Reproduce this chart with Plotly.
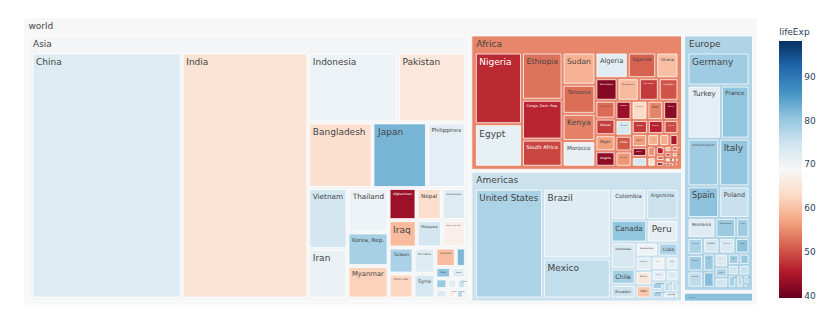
import numpy as np
import pandas as pd
import plotly.express as px

# Gapminder 2007: country, continent, population, life expectancy
countries = [
    "Algeria", "Angola", "Benin", "Botswana", "Burkina Faso", "Burundi", "Cameroon",
    "Central African Republic", "Chad", "Comoros", "Congo, Dem. Rep.", "Congo, Rep.",
    "Cote d'Ivoire", "Djibouti", "Egypt", "Equatorial Guinea", "Eritrea", "Ethiopia",
    "Gabon", "Gambia", "Ghana", "Guinea", "Guinea-Bissau", "Kenya", "Lesotho", "Liberia",
    "Libya", "Madagascar", "Malawi", "Mali", "Mauritania", "Mauritius", "Morocco",
    "Mozambique", "Namibia", "Niger", "Nigeria", "Reunion", "Rwanda",
    "Sao Tome and Principe", "Senegal", "Sierra Leone", "Somalia", "South Africa",
    "Sudan", "Swaziland", "Tanzania", "Togo", "Tunisia", "Uganda", "Zambia", "Zimbabwe",
    "Argentina", "Bolivia", "Brazil", "Canada", "Chile", "Colombia", "Costa Rica", "Cuba",
    "Dominican Republic", "Ecuador", "El Salvador", "Guatemala", "Haiti", "Honduras",
    "Jamaica", "Mexico", "Nicaragua", "Panama", "Paraguay", "Peru", "Puerto Rico",
    "Trinidad and Tobago", "United States", "Uruguay", "Venezuela",
    "Afghanistan", "Bahrain", "Bangladesh", "Cambodia", "China", "Hong Kong, China",
    "India", "Indonesia", "Iran", "Iraq", "Israel", "Japan", "Jordan", "Korea, Dem. Rep.",
    "Korea, Rep.", "Kuwait", "Lebanon", "Malaysia", "Mongolia", "Myanmar", "Nepal", "Oman",
    "Pakistan", "Philippines", "Saudi Arabia", "Singapore", "Sri Lanka", "Syria", "Taiwan",
    "Thailand", "Vietnam", "West Bank and Gaza", "Yemen, Rep.",
    "Albania", "Austria", "Belgium", "Bosnia and Herzegovina", "Bulgaria", "Croatia",
    "Czech Republic", "Denmark", "Finland", "France", "Germany", "Greece", "Hungary",
    "Iceland", "Ireland", "Italy", "Montenegro", "Netherlands", "Norway", "Poland",
    "Portugal", "Romania", "Serbia", "Slovak Republic", "Slovenia", "Spain", "Sweden",
    "Switzerland", "Turkey", "United Kingdom",
    "Australia", "New Zealand",
]

continents = (["Africa"] * 52 + ["Americas"] * 25 + ["Asia"] * 33
              + ["Europe"] * 30 + ["Oceania"] * 2)

population = [
    33333216, 12420476, 8078314, 1639131, 14326203, 8390505, 17696293,
    4369038, 10238807, 710960, 64606759, 3800610,
    18013409, 496374, 80264543, 551201, 4906585, 76511887,
    1454867, 1688359, 22873338, 9947814, 1472041, 35610177, 2012649, 3193942,
    6036914, 19167654, 13327079, 12031795, 3270065, 1250882, 33757175,
    19951656, 2055080, 12894865, 135031164, 798094, 8860588,
    199579, 12267493, 6144562, 9118773, 43997828,
    42292929, 1133066, 38139640, 5701579, 10276158, 29170398, 11746035, 12311143,
    40301927, 9119152, 190010647, 33390141, 16284741, 44227550, 4133884, 11416987,
    9319622, 13755680, 6939688, 12572928, 8502814, 7483763,
    2780132, 108700891, 5675356, 3242173, 6667147, 28674757, 3942491,
    1056608, 301139947, 3447496, 26084662,
    31889923, 708573, 150448339, 14131858, 1318683096, 6980412,
    1110396331, 223547000, 69453570, 27499638, 6426679, 127467972, 6053193, 23301725,
    49044790, 2505559, 3921278, 24821286, 2874127, 47761980, 28901790, 3204897,
    169270617, 91077287, 27601038, 4553009, 20378239, 19314747, 23174294,
    65068149, 85262356, 4018332, 22211743,
    3600523, 8199783, 10392226, 4552198, 7322858, 4493312,
    10228744, 5468120, 5238460, 61083916, 82400996, 10706290, 9956108,
    301931, 4109086, 58147733, 684736, 16570613, 4627926, 38518241,
    10642836, 22276056, 10150265, 5447502, 2009245, 40448191, 9031088,
    7554661, 71158647, 60776238,
    20434176, 4115771,
]

life_exp = [
    72.301, 42.731, 56.728, 50.728, 52.295, 49.580, 50.430,
    44.741, 50.651, 65.152, 46.462, 55.322,
    48.328, 54.791, 71.338, 51.579, 58.040, 52.947,
    56.735, 59.448, 60.022, 56.007, 46.388, 54.110, 42.592, 45.678,
    73.952, 59.443, 48.303, 54.467, 64.164, 72.801, 71.164,
    42.082, 52.906, 56.867, 46.859, 76.442, 46.242,
    65.528, 63.062, 42.568, 48.159, 49.339,
    58.556, 39.613, 52.517, 58.420, 73.923, 51.542, 42.384, 43.487,
    75.320, 65.554, 72.390, 80.653, 78.553, 72.889, 78.782, 78.273,
    72.235, 74.994, 71.878, 70.259, 60.916, 70.198,
    72.567, 76.195, 72.899, 75.537, 71.752, 71.421, 78.746,
    69.819, 78.242, 76.384, 73.747,
    43.828, 75.635, 64.062, 59.723, 72.961, 82.208,
    64.698, 70.650, 70.964, 59.545, 80.745, 82.603, 72.535, 67.297,
    78.623, 77.588, 71.993, 74.241, 66.803, 62.069, 63.785, 75.640,
    65.483, 71.688, 72.777, 79.972, 72.396, 74.143, 78.400,
    70.616, 74.249, 73.422, 62.698,
    76.423, 79.829, 79.441, 74.852, 73.005, 75.748,
    76.486, 78.332, 79.313, 80.657, 79.406, 79.483, 73.338,
    81.757, 78.885, 80.546, 74.543, 79.762, 80.196, 75.563,
    78.098, 72.476, 74.002, 74.663, 77.926, 80.941, 80.884,
    81.701, 71.777, 79.425,
    81.235, 80.204,
]

df = pd.DataFrame({
    "country": countries,
    "continent": continents,
    "pop": population,
    "lifeExp": life_exp,
})

fig = px.treemap(
    df,
    path=[px.Constant("world"), "continent", "country"],
    values="pop",
    color="lifeExp",
    color_continuous_scale="RdBu",
    color_continuous_midpoint=np.average(df["lifeExp"], weights=df["pop"]),
)

# compact styling: small text, thin tile borders
fig.update_traces(
    marker=dict(pad=dict(l=4.5, r=4.5, b=4), line=dict(width=0.75)),
)

fig.update_layout(
    width=839,
    height=327,
    margin=dict(t=18, l=24, r=82, b=22),
    font=dict(family="Verdana, DejaVu Sans, sans-serif", size=9),
    coloraxis_colorbar=dict(
        thickness=22.5,
        xpad=7.5,
        ypad=7.5,
        ticklen=3.75,
        title=dict(font=dict(size=9)),
        tickfont=dict(size=9),
    ),
)

fig.write_html("out.html")
